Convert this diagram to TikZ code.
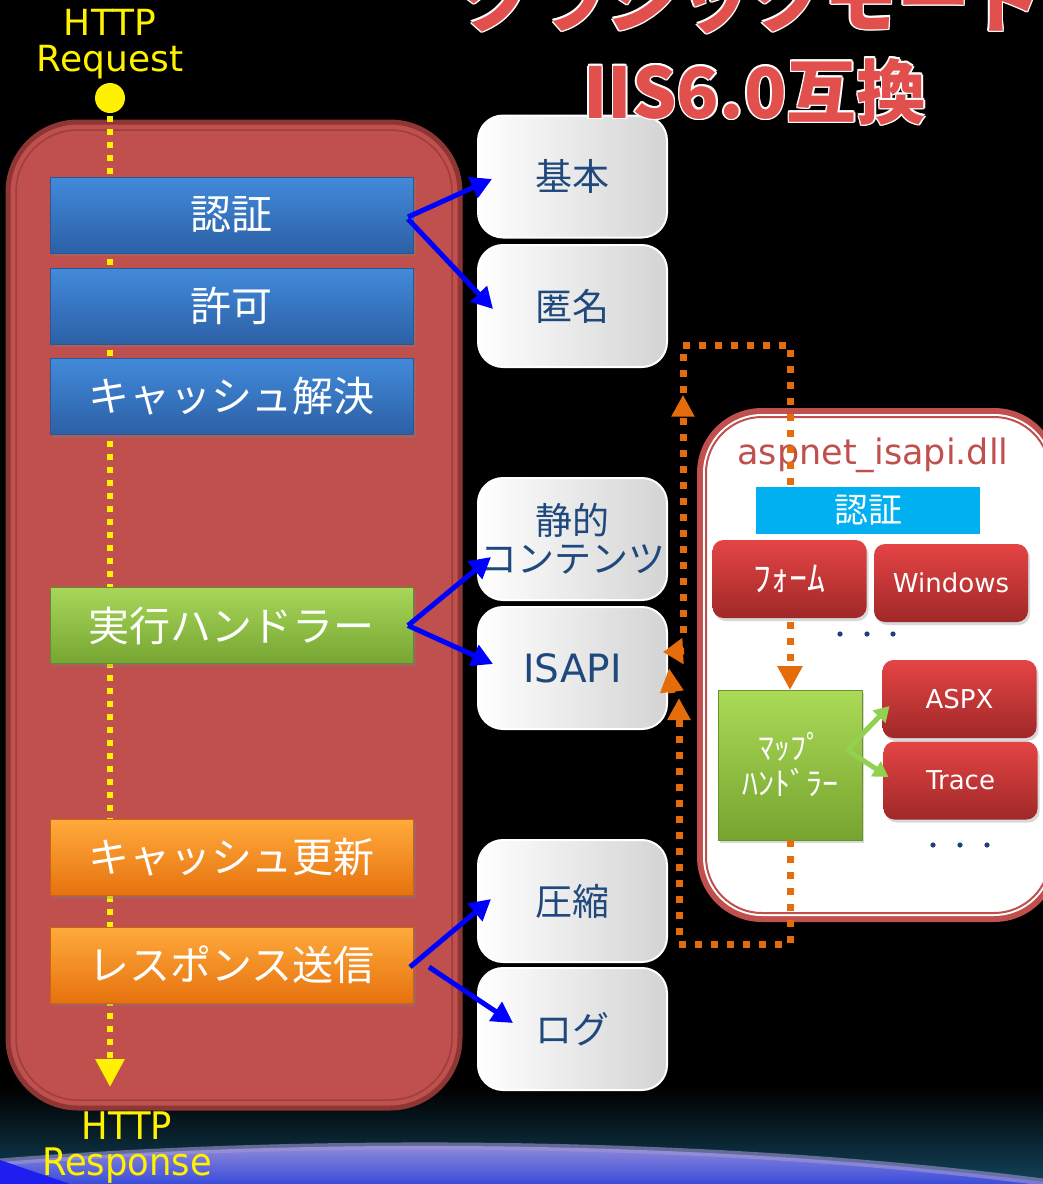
\documentclass[tikz,border=0pt]{standalone}
\usepackage{fontspec}
\setmainfont{DejaVu Sans}
\newfontfamily\jp{Noto Sans CJK JP}
\newfontfamily\cond[FakeStretch=0.93]{DejaVu Sans}
\usetikzlibrary{arrows.meta,shadows,calc,decorations.markings}
\definecolor{pipered}{HTML}{C0504D}
\definecolor{pipedark}{HTML}{8E3634}
\definecolor{navytext}{HTML}{1F497D}
\definecolor{orangeline}{HTML}{E46C0A}
\definecolor{titlered}{HTML}{E2504E}
\definecolor{lightgreen}{HTML}{92D050}
\definecolor{dotblue}{HTML}{1F3F7A}
\definecolor{cyanbar}{HTML}{00B0F0}
\definecolor{bandblue}{HTML}{3A4CDC}
\definecolor{bandlav}{HTML}{A096D6}
\definecolor{bandteal}{HTML}{12435A}
\definecolor{bandcorner}{HTML}{1E1EF0}
\definecolor{blueTop}{HTML}{428ADA}
\definecolor{blueBot}{HTML}{2C60A6}
\definecolor{blueEdge}{HTML}{285896}
\definecolor{greenTop}{HTML}{A8D65A}
\definecolor{greenBot}{HTML}{76A632}
\definecolor{greenEdge}{HTML}{648C2C}
\definecolor{orangeTop}{HTML}{FFAA3C}
\definecolor{orangeBot}{HTML}{E6720E}
\definecolor{orangeEdge}{HTML}{C86414}
\definecolor{redTop}{HTML}{E54444}
\definecolor{redBot}{HTML}{A02828}
\definecolor{mapTop}{HTML}{AADA56}
\definecolor{mapBot}{HTML}{76A430}
\definecolor{mapEdge}{HTML}{69922C}
\tikzset{
  stagebox/.style={minimum width=363, minimum height=76, inner sep=0, outer sep=0,
    text=white, font=\jp\fontsize{41}{41}\selectfont, line width=0.8,
    drop shadow={shadow xshift=3pt, shadow yshift=-3pt, opacity=0.35}},
  bluestage/.style={stagebox, top color=blueTop, bottom color=blueBot, draw=blueEdge},
  greenstage/.style={stagebox, top color=greenTop, bottom color=greenBot, draw=greenEdge},
  orangestage/.style={stagebox, top color=orangeTop, bottom color=orangeBot, draw=orangeEdge},
  optbox/.style={minimum width=189, minimum height=122, rounded corners=25, inner sep=0, outer sep=0,
    left color=white, right color=black!17, draw=white, line width=2, text=navytext,
    font=\jp\fontsize{37}{37}\selectfont},
  redsmall/.style={minimum width=154, minimum height=78, rounded corners=11, inner sep=0, outer sep=0,
    top color=redTop, bottom color=redBot,
    text=white, font=\fontsize{26}{26}\selectfont,
    drop shadow={shadow xshift=2pt, shadow yshift=-3pt, opacity=0.3}},
  barrow/.style={draw=blue, line width=5, -{Triangle[length=21pt,width=22pt]}},
  garrow/.style={draw=lightgreen, line width=5, -{Triangle[length=15pt,width=17pt]}},
  odots/.style={draw=orangeline, line width=7, dash pattern=on 7 off 9},
  otip/.style={draw=orangeline, line width=7},
}
\newcommand\glowtitle[4]{%
  \foreach \dx/\dy [count=\k] in {-1.6/0,1.6/0,0/-1.6,0/1.6,-1.1/-1.1,1.1/-1.1,-1.1/1.1,1.1/1.1}{%
    \node[anchor=base, font=#3, text=white, inner sep=0] (#1w\k) at ($(#2)+(\dx,\dy)$) {#4};}%
  \node[anchor=base, font=#3, text=titlered, inner sep=0] (#1) at (#2) {#4};}
\begin{document}
\begin{tikzpicture}[x=1pt,y=-1pt]
\useasboundingbox (0,0) rectangle (1043,1184);
\fill[black] (0,0) rectangle (1043,1184);
% bottom band
\shade[top color=black, bottom color=bandteal] (0,1088) rectangle (1043,1184);
\shade[top color=bandlav, bottom color=bandblue] (0,1162) .. controls (300,1138) and (700,1138) .. (1043,1182) -- (1043,1184) -- (0,1184) -- cycle;
\draw[bandlav, line width=7, opacity=0.6] (0,1162) .. controls (300,1138) and (700,1138) .. (1043,1182);
\fill[bandcorner] (0,1160) -- (70,1184) -- (0,1184) -- cycle;

% pipeline container
\node[draw=pipedark, line width=5, fill=pipered, rounded corners=70, minimum width=452, minimum height=986, inner sep=0, outer sep=0] (pipe) at (234,615) {};
\draw[pipedark!70!pipered, line width=1.5, rounded corners=62] ($(pipe.north west)+(8,8)$) rectangle ($(pipe.south east)+(-8,-8)$);

% request flow
\node[circle, fill=yellow, minimum size=30, inner sep=0, outer sep=0] (reqdot) at (110,98) {};
\coordinate (resptip) at (110,1087);
\draw[yellow, line width=6, dash pattern=on 6 off 7, -{Triangle[length=28pt,width=28pt]}] ($(reqdot.south)+(0,3)$) -- (resptip);
\node[text=yellow, align=center, font=\fontsize{36}{36}\selectfont, inner sep=0] (req) at (110,44) {HTTP\\Request};
\node[text=yellow, align=center, font=\cond\fontsize{38}{36}\selectfont, inner sep=0] (resp) at (127,1148) {HTTP\\Response};

% stages
\node[bluestage] (auth) at (231.5,215) {認証};
\node[bluestage] (authz) at (231.5,306) {許可};
\node[bluestage] (cache) at (231.5,396.5) {キャッシュ解決};
\node[greenstage] (exec) at (231.5,625.5) {実行ハンドラー};
\node[orangestage] (upd) at (231.5,857.5) {キャッシュ更新};
\node[orangestage] (send) at (231.5,965) {レスポンス送信};

% option boxes
\node[optbox] (kihon) at (572.5,176.5) {基本};
\node[optbox] (tokumei) at (572.5,306) {匿名};
\node[optbox, align=center, font=\jp\fontsize{37}{38}\selectfont] (seiteki) at (572.5,539) {静的\\コンテンツ};
\node[optbox, font=\fontsize{39}{39}\selectfont] (isapi) at (572.5,668) {ISAPI};
\node[optbox] (asshuku) at (572.5,901) {圧縮};
\node[optbox] (log) at (572.5,1029) {ログ};

% blue arrows
\draw[barrow] ($(auth.east)+(-5,2)$) -- ($(kihon.west)+(14,2.5)$);
\draw[barrow] ($(auth.east)+(-5,4)$) -- ($(tokumei.west)+(15,3)$);
\draw[barrow] ($(exec.east)+(-5,0)$) -- ($(seiteki.west)+(13,18)$);
\draw[barrow] ($(exec.east)+(-5,0)$) -- ($(isapi.west)+(15,-4)$);
\draw[barrow] ($(send.east)+(-3,2)$) -- ($(asshuku.west)+(13,-2)$);
\draw[barrow] ($(send.east)+(16,2)$) -- ($(log.west)+(35,-6)$);

% aspnet_isapi box
\node[fill=pipered, rounded corners=65, minimum width=362, minimum height=514, inner sep=0, outer sep=0] (asp) at (878,665) {};
\fill[white, rounded corners=59] ($(asp.north west)+(6,6)$) rectangle ($(asp.south east)+(-6,-6)$);
\draw[pipered, line width=2, rounded corners=56] ($(asp.north west)+(9,9)$) rectangle ($(asp.south east)+(-9,-9)$);
\node[text=pipered, font=\fontsize{35}{35}\selectfont, inner sep=0] (asptitle) at (873,455) {aspnet\_isapi.dll};

\node[minimum width=144, minimum height=150, inner sep=0, outer sep=0, top color=mapTop, bottom color=mapBot, draw=mapEdge, line width=0.8, align=center, text=white, font=\jp\fontsize{32}{36}\selectfont, drop shadow={shadow xshift=2pt, shadow yshift=-3pt, opacity=0.3}] (map) at (790,765) {ﾏｯﾌﾟ\\ﾊﾝﾄﾞﾗｰ};

% orange flow (behind inner boxes)
\draw[odots, -{Triangle[length=24pt,width=24pt]},
  postaction={decorate}, decoration={markings, mark=at position 0.322 with {\arrow{Triangle[length=22pt,width=22pt]}}}]
  ($(isapi.east)+(16,-35)$) -- (683,345) -- (790,345) -- (map.north);
\draw[odots, -{Triangle[length=22pt,width=22pt]}] (map.south) -- (790,944) -- (679,944) -- ($(isapi.east)+(12,30)$);
\draw[otip, -{Triangle[length=24pt,width=22pt]}] ($(isapi.east)+(5,25)$) -- ($(isapi.east)+(2,0)$);
\draw[otip, -{Triangle[length=20pt,width=25pt]}] ($(isapi.east)+(17,-17)$) -- ($(isapi.east)+(-4,-16)$);

\node[fill=cyanbar, minimum width=224, minimum height=47, inner sep=0, outer sep=0, text=white, font=\jp\fontsize{34}{34}\selectfont] (aauth) at (868,510.5) {認証};
\node[redsmall, font=\jp\fontsize{36}{36}\selectfont] (form) at (789.5,579) {ﾌｫｰﾑ};
\node[redsmall] (win) at (951,583) {Windows};
\node[redsmall] (aspx) at (959.5,699) {ASPX};
\node[redsmall] (trace) at (960.5,780.5) {Trace};
\fill[dotblue] (840,634) circle (2.6) (867,634) circle (2.6) (893,634) circle (2.6);
\fill[dotblue] (933,845) circle (2.6) (960,845) circle (2.6) (987,845) circle (2.6);

\draw[garrow] ($(map.east)+(-15,-15)$) -- ($(aspx.west)+(7,7)$);
\draw[garrow] ($(map.east)+(-15,-15)$) -- ($(trace.west)+(5,-3.5)$);

% title
\glowtitle{titleA}{752,26}{\jp\bfseries\fontsize{73}{73}\selectfont}{クラシックモード}
\glowtitle{titleB}{755,118}{\jp\bfseries\fontsize{70}{70}\selectfont}{IIS6.0互換}
\end{tikzpicture}
\end{document}
